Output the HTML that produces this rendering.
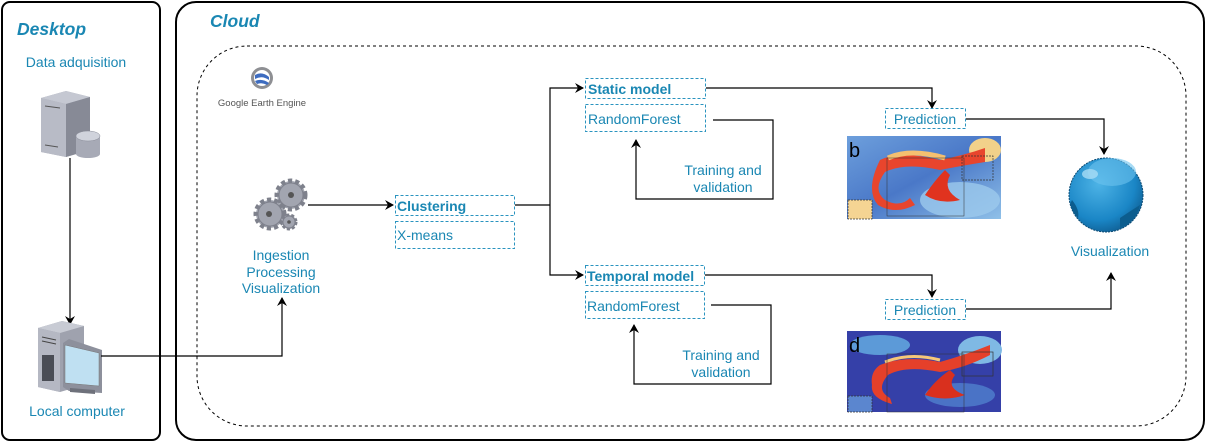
<!DOCTYPE html>
<html><head><meta charset="utf-8">
<style>
html,body{margin:0;padding:0;background:#fff;}
svg{display:block;}
text{font-family:"Liberation Sans",Arial,sans-serif;}
.t{fill:#1a87b3;font-size:14px;}
.b{fill:#1a87b3;font-size:14px;font-weight:bold;}
.box{fill:none;stroke:#2a93bf;stroke-dasharray:3 2;stroke-width:1;}
.ln{fill:none;stroke:#000;stroke-width:1.2;}
</style></head><body>
<svg width="1206" height="442" viewBox="0 0 1206 442" xmlns="http://www.w3.org/2000/svg">
<defs>
<marker id="ar" markerWidth="10" markerHeight="10" refX="8" refY="5" orient="auto" markerUnits="userSpaceOnUse">
<path d="M0,0 L9,5 L0,10 L3,5 z" fill="#000"/>
</marker>
<radialGradient id="sph" cx="0.4" cy="0.35" r="0.7">
<stop offset="0" stop-color="#4db3e6"/><stop offset="0.7" stop-color="#1a86c6"/><stop offset="1" stop-color="#0f5e93"/>
</radialGradient>
<linearGradient id="mapb" x1="0" y1="0" x2="1" y2="1">
<stop offset="0" stop-color="#6d9fdc"/><stop offset="0.5" stop-color="#4a78c8"/><stop offset="1" stop-color="#8fc0e8"/>
</linearGradient>
</defs>

<rect x="2" y="2" width="158" height="438" rx="8" fill="none" stroke="#000" stroke-width="2"/>
<text x="17" y="35" style="font-size:17.5px;font-weight:bold;font-style:italic;fill:#1a87b3">Desktop</text>
<text x="76" y="67" text-anchor="middle" class="t">Data adquisition</text>

<g>
<polygon points="41,98 66,91 90,97 90,150 66,157 41,152" fill="#a9acb8"/>
<polygon points="41,98 66,91 90,97 66,104" fill="#c5c8d2"/>
<polygon points="66,104 90,97 90,150 66,157" fill="#878a96"/>
<polygon points="41,98 66,104 66,157 41,152" fill="#b8bbc6"/>
<line x1="45" y1="106" x2="60" y2="108" stroke="#555" stroke-width="1"/>
<line x1="45" y1="145" x2="58" y2="147" stroke="#555" stroke-width="1"/>
<rect x="76" y="136" width="24" height="18" fill="#a7aab6"/>
<ellipse cx="88" cy="154" rx="12" ry="4" fill="#a7aab6"/>
<ellipse cx="88" cy="136" rx="12" ry="5" fill="#d0d3dc" stroke="#8a8d99" stroke-width="0.5"/>
</g>
<line x1="70" y1="158" x2="70" y2="324" class="ln" stroke="#444" marker-end="url(#ar)"/>

<g>
<polygon points="38,328 62,321 84,326 84,385 60,392 38,387" fill="#9fa2ae"/>
<polygon points="38,328 62,321 84,326 60,333" fill="#c8cbd4"/>
<polygon points="38,328 60,333 60,392 38,387" fill="#b5b8c3"/>
<line x1="42" y1="337" x2="56" y2="340" stroke="#444"/>
<line x1="42" y1="341" x2="56" y2="344" stroke="#444"/>
<rect x="42" y="355" width="12" height="26" fill="#4a4d55"/>
<polygon points="63,343 69,339 102,350 102,393 69,391 63,387" fill="#8d909c"/>
<polygon points="65,345 99,353 99,386 65,383" fill="#bfe0f2" stroke="#777" stroke-width="0.5"/>
<polygon points="70,388 95,390 95,394 70,392" fill="#6e717b"/>
</g>
<text x="77" y="416" text-anchor="middle" class="t">Local computer</text>
<polyline points="101,356 282,356 282,298" class="ln" marker-end="url(#ar)"/>

<rect x="176" y="2" width="1028" height="438" rx="20" fill="none" stroke="#000" stroke-width="2"/>
<text x="210" y="27" style="font-size:17.5px;font-weight:bold;font-style:italic;fill:#1a87b3">Cloud</text>
<rect x="197" y="46" width="989" height="380" rx="50" fill="none" stroke="#000" stroke-width="1" stroke-dasharray="3 3"/>

<g>
<circle cx="262" cy="78" r="11" fill="#8e8f93"/>
<circle cx="262" cy="78" r="8" fill="#fff"/>
<path d="M255,75 Q262,71 269,77 L269,80 Q262,75 255,79z" fill="#3d6cc0"/>
<path d="M255,81 Q262,78 269,83 L267,85 Q262,82 257,84z" fill="#3d6cc0"/>
</g>
<text x="262" y="106" text-anchor="middle" style="font-size:9.5px;fill:#555">Google Earth Engine</text>

<g fill="#a2a5b0" stroke="#7e818c" stroke-width="1">
<circle cx="291" cy="195" r="14" stroke-dasharray="4 3" stroke-width="5"/>
<circle cx="291" cy="195" r="12"/>
<circle cx="270" cy="214" r="14" stroke-dasharray="4 3" stroke-width="5"/>
<circle cx="270" cy="214" r="12"/>
<circle cx="289" cy="222" r="7" stroke-dasharray="3 2" stroke-width="3"/>
<circle cx="289" cy="222" r="6"/>
</g>
<circle cx="291" cy="195" r="3" fill="#555"/>
<circle cx="269" cy="214" r="3" fill="#555"/>
<circle cx="289" cy="222" r="1.8" fill="#555"/>
<text x="281" y="260" text-anchor="middle" class="t">Ingestion</text>
<text x="281" y="277" text-anchor="middle" class="t">Processing</text>
<text x="281" y="293" text-anchor="middle" class="t">Visualization</text>
<line x1="308" y1="205" x2="393" y2="205" class="ln" stroke="#555" marker-end="url(#ar)"/>

<rect x="395.5" y="195.5" width="119" height="20" class="box"/>
<text x="397" y="211" class="b">Clustering</text>
<rect x="395.5" y="221.5" width="119" height="27" class="box"/>
<text x="397" y="240" class="t">X-means</text>
<line x1="515" y1="205" x2="550" y2="205" class="ln" stroke-width="1.5"/>
<polyline points="550,205 550,88 583,88" class="ln" marker-end="url(#ar)"/>
<polyline points="550,205 550,275 583,275" class="ln" marker-end="url(#ar)"/>

<rect x="585.5" y="78.5" width="120" height="20" class="box"/>
<text x="588" y="94" class="b">Static model</text>
<rect x="585.5" y="104.5" width="120" height="27" class="box"/>
<text x="588" y="124" class="t">RandomForest</text>
<polyline points="713,120 773,120 773,199 636,199 636,140" class="ln" marker-end="url(#ar)"/>
<text x="723" y="175" text-anchor="middle" class="t">Training and</text>
<text x="723" y="192" text-anchor="middle" class="t">validation</text>

<rect x="585.5" y="265.5" width="119" height="20" class="box"/>
<text x="587" y="281" class="b">Temporal model</text>
<rect x="585.5" y="291.5" width="119" height="27" class="box"/>
<text x="587" y="311" class="t">RandomForest</text>
<polyline points="711,305 771,305 771,384 634,384 634,325" class="ln" marker-end="url(#ar)"/>
<text x="721" y="360" text-anchor="middle" class="t">Training and</text>
<text x="721" y="377" text-anchor="middle" class="t">validation</text>

<polyline points="706,88 932,88 932,108" class="ln" marker-end="url(#ar)"/>
<rect x="885.5" y="108.5" width="80" height="20" class="box"/>
<text x="925" y="124" text-anchor="middle" class="t">Prediction</text>
<polyline points="966,119 1104,119 1104,154" class="ln" marker-end="url(#ar)"/>

<polyline points="705,275 932,275 932,297" class="ln" marker-end="url(#ar)"/>
<rect x="885.5" y="299.5" width="80" height="20" class="box"/>
<text x="925" y="315" text-anchor="middle" class="t">Prediction</text>
<polyline points="966,309 1111,309 1111,273" class="ln" marker-end="url(#ar)"/>

<g>
<rect x="847" y="136" width="154" height="83" fill="url(#mapb)"/>
<ellipse cx="960" cy="200" rx="40" ry="18" fill="#9cc9ec" opacity="0.8"/>
<ellipse cx="985" cy="150" rx="16" ry="12" fill="#f2d18a"/>
<path d="M880,160 Q900,150 940,160 Q965,155 985,148 L985,162 Q960,166 940,170 Q905,162 885,172 Q872,190 885,200 Q900,208 910,198 L915,205 Q895,215 878,205 Q865,190 880,160z" fill="#e8452d"/>
<path d="M888,158 Q910,148 945,158" stroke="#f5c070" stroke-width="5" fill="none"/>
<path d="M925,195 Q935,180 945,170 L950,175 Q942,190 960,200 Q940,205 925,195z" fill="#e0331f"/>
<rect x="848" y="200" width="24" height="19" fill="#f5d493"/>
<rect x="848" y="200" width="24" height="19" fill="none" stroke="#333" stroke-dasharray="2 1" stroke-width="0.7"/>
<rect x="962" y="156" width="31" height="24" fill="none" stroke="#333" stroke-dasharray="2 1" stroke-width="0.7"/>
<rect x="887" y="158" width="77" height="58" fill="none" stroke="#333" stroke-width="0.5"/>
<text x="849" y="157" style="font-size:20px;fill:#000">b</text>
</g>

<g>
<rect x="847" y="331" width="154" height="81" fill="#3540a8"/>
<ellipse cx="880" cy="345" rx="30" ry="10" fill="#5c9ad8"/>
<ellipse cx="980" cy="350" rx="22" ry="14" fill="#7fb9e4"/>
<ellipse cx="960" cy="395" rx="35" ry="12" fill="#4a73c6"/>
<path d="M880,365 Q905,355 940,362 Q965,355 990,345 L990,355 Q965,368 940,372 Q905,365 888,375 Q875,390 890,398 L892,404 Q870,398 872,385 Q870,372 880,365z" fill="#e5402a"/>
<path d="M925,395 Q935,380 950,370 L955,375 Q945,388 965,395 Q945,402 925,395z" fill="#d9301e"/>
<path d="M885,362 Q910,352 940,360" stroke="#f6c878" stroke-width="3" fill="none"/>
<rect x="848" y="396" width="24" height="16" fill="#5b86cf"/>
<rect x="848" y="396" width="24" height="16" fill="none" stroke="#333" stroke-dasharray="2 1" stroke-width="0.7"/>
<rect x="962" y="352" width="31" height="24" fill="none" stroke="#333" stroke-width="0.7"/>
<rect x="887" y="354" width="77" height="58" fill="none" stroke="#333" stroke-width="0.5"/>
<text x="849" y="352" style="font-size:20px;fill:#000">d</text>
</g>

<circle cx="1106" cy="195" r="37" fill="url(#sph)" stroke="#0c4a73" stroke-width="1" stroke-dasharray="2 1"/>
<ellipse cx="1112" cy="172" rx="24" ry="14" fill="#6cc3ef" opacity="0.6"/>
<ellipse cx="1090" cy="174" rx="8" ry="5" fill="#a7dcf5" opacity="0.8"/>
<path d="M1072,200 Q1080,210 1078,218 Q1072,212 1070,204z" fill="#0c5d8e"/>
<path d="M1120,218 Q1132,210 1140,205 Q1136,222 1120,228z" fill="#0c5d8e"/>
<text x="1110" y="256" text-anchor="middle" class="t">Visualization</text>
</svg>
</body></html>
